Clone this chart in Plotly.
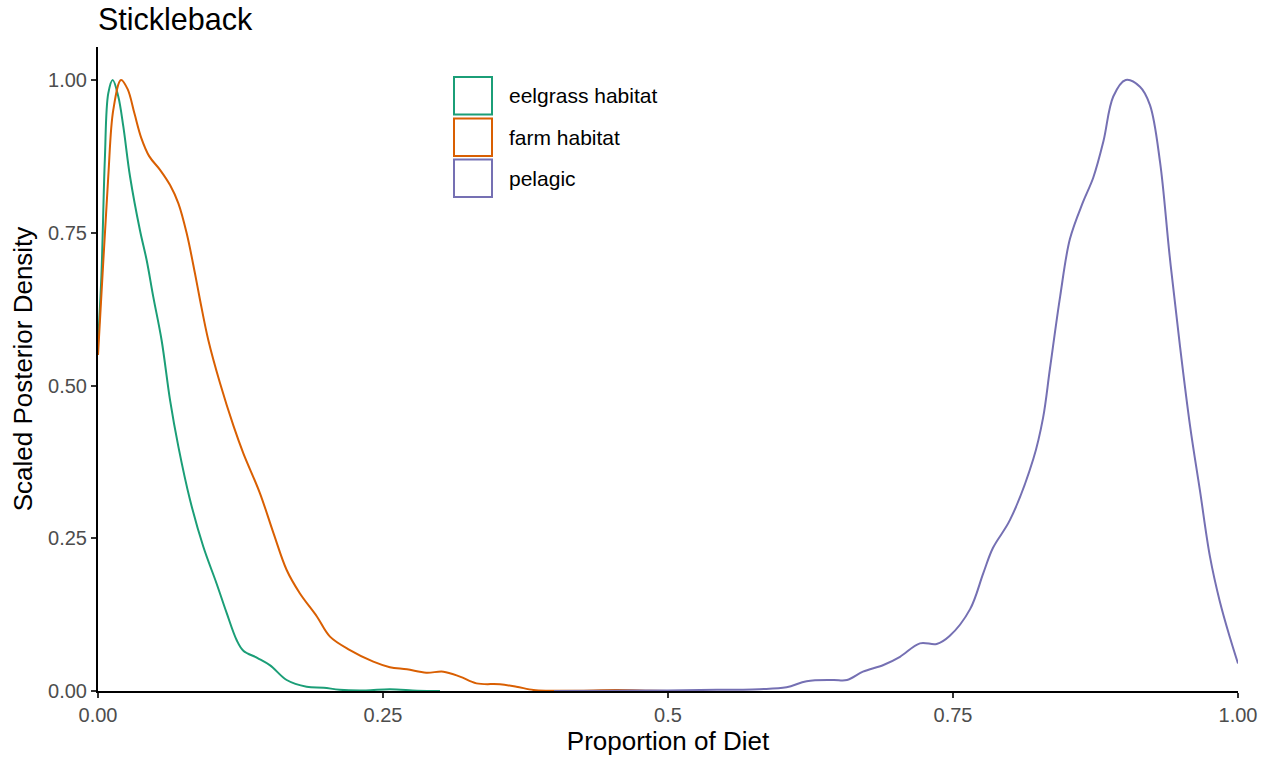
import plotly.graph_objects as go

# ---- data ----
eelgrass_x = [0.0, 0.003, 0.006, 0.009, 0.0129, 0.0178, 0.0222, 0.0281, 0.0368, 0.0427,
              0.0485, 0.0558, 0.0632, 0.0705, 0.0807, 0.0924, 0.104, 0.113, 0.1216, 0.1275,
              0.140, 0.151, 0.1655, 0.183, 0.198, 0.212, 0.235, 0.256, 0.28, 0.30]
eelgrass_y = [0.57, 0.68, 0.87, 0.978, 1.0, 0.973, 0.924, 0.842, 0.754, 0.705,
              0.645, 0.574, 0.476, 0.40, 0.313, 0.236, 0.176, 0.127, 0.0835, 0.066,
              0.054, 0.042, 0.018, 0.007, 0.0055, 0.002, 0.001, 0.003, 0.0005, 0.0]

farm_x = [0.0, 0.0047, 0.009, 0.0134, 0.0202, 0.026, 0.032, 0.038, 0.045, 0.0544,
          0.0632, 0.0705, 0.0778, 0.085, 0.0895, 0.0968, 0.107, 0.119, 0.1275, 0.142,
          0.154, 0.1655, 0.177, 0.192, 0.2035, 0.221, 0.2415, 0.256, 0.271, 0.288,
          0.303, 0.3175, 0.332, 0.3526, 0.367, 0.382, 0.396, 0.42, 0.455, 0.484, 0.50]
farm_y = [0.55, 0.705, 0.842, 0.951, 1.0, 0.985, 0.945, 0.905, 0.875, 0.853,
          0.828, 0.798, 0.749, 0.684, 0.64, 0.574, 0.504, 0.433, 0.389, 0.324,
          0.258, 0.198, 0.160, 0.122, 0.089, 0.067, 0.048, 0.039, 0.0355, 0.030,
          0.0316, 0.0235, 0.0125, 0.011, 0.007, 0.0016, 0.0005, 0.0005, 0.0016, 0.0005, 0.0]

pelagic_x = [0.40, 0.45, 0.50, 0.528, 0.58, 0.604, 0.6216, 0.645, 0.657, 0.671,
             0.689, 0.7035, 0.721, 0.7357, 0.747, 0.765, 0.7766, 0.785, 0.80, 0.8205,
             0.829, 0.835, 0.844, 0.8526, 0.864, 0.873, 0.882, 0.8906, 0.9015, 0.914,
             0.9228, 0.9316, 0.940, 0.949, 0.958, 0.9667, 0.9754, 0.984, 0.993, 1.0]
pelagic_y = [0.0, 0.0005, 0.001, 0.0016, 0.003, 0.006, 0.016, 0.018, 0.018, 0.0316,
             0.0426, 0.056, 0.078, 0.077, 0.09, 0.134, 0.193, 0.234, 0.280, 0.380,
             0.447, 0.527, 0.646, 0.740, 0.800, 0.840, 0.900, 0.973, 1.0, 0.989,
             0.959, 0.866, 0.713, 0.566, 0.433, 0.327, 0.220, 0.147, 0.087, 0.045]

series_names = ["eelgrass habitat", "farm habitat", "pelagic"]
series_colors = ["#1B9E77", "#D95F02", "#7570B3"]

x_tickvals = [0, 0.25, 0.5, 0.75, 1.0]
x_ticktext = ["0.00", "0.25", "0.5", "0.75", "1.00"]
y_tickvals = [0, 0.25, 0.5, 0.75, 1.0]
y_ticktext = ["0.00", "0.25", "0.50", "0.75", "1.00"]

FONT = "Liberation Sans, Arial, sans-serif"

fig = go.Figure()
for name, xs, ys, col in zip(series_names,
                             [eelgrass_x, farm_x, pelagic_x],
                             [eelgrass_y, farm_y, pelagic_y],
                             series_colors):
    fig.add_trace(go.Scatter(x=xs, y=ys, mode="lines", name=name,
                             line=dict(color=col, width=2, shape="spline", smoothing=1.0),
                             showlegend=False))

# custom legend (outlined boxes like ggplot density keys)
W, H = 1263, 761
ML, MR, MT, MB = 98, 25, 47, 70
pw, ph = W - ML - MR, H - MT - MB

def px_x(p):
    return (p - ML) / pw

def px_y(p):
    return (H - MB - p) / ph

box_tops = [77, 118.5, 159.5]
box_h = 37.5
for name, col, top in zip(series_names, series_colors, box_tops):
    fig.add_shape(type="rect", xref="paper", yref="paper",
                  x0=px_x(454), x1=px_x(492), y0=px_y(top + box_h), y1=px_y(top),
                  line=dict(color=col, width=2), fillcolor="rgba(0,0,0,0)")
    fig.add_annotation(xref="paper", yref="paper", x=px_x(507), y=px_y(top + box_h / 2),
                       text=name, showarrow=False, xanchor="left", yanchor="middle",
                       font=dict(family=FONT, size=21, color="black"))

fig.update_layout(
    width=W, height=H,
    margin=dict(l=ML, r=MR, t=MT, b=MB, pad=0),
    paper_bgcolor="white", plot_bgcolor="white",
    font=dict(family=FONT, color="black"),
    title=dict(text="Stickleback", x=0, xref="paper", xanchor="left",
               y=1 - 19 / H, yref="container", yanchor="middle",
               font=dict(family=FONT, size=30.5, color="black")),
    xaxis=dict(range=[0, 1], tickvals=x_tickvals, ticktext=x_ticktext, automargin=False,
               showgrid=False, zeroline=False, showline=True, linecolor="black", linewidth=2,
               ticks="outside", ticklen=5, tickwidth=2, tickcolor="#333333",
               tickfont=dict(family=FONT, size=20, color="#4D4D4D"),
               title=dict(text="Proportion of Diet", standoff=7,
                          font=dict(family=FONT, size=26, color="black"))),
    yaxis=dict(range=[0, 1.054], tickvals=y_tickvals, ticktext=y_ticktext, automargin=False,
               showgrid=False, zeroline=False, showline=True, linecolor="black", linewidth=2,
               ticks="outside", ticklen=5, tickwidth=2, tickcolor="#333333",
               tickfont=dict(family=FONT, size=20, color="#4D4D4D"),
               title=dict(text="Scaled Posterior Density", standoff=8,
                          font=dict(family=FONT, size=26, color="black"))),
)

fig.write_html("out.html")
